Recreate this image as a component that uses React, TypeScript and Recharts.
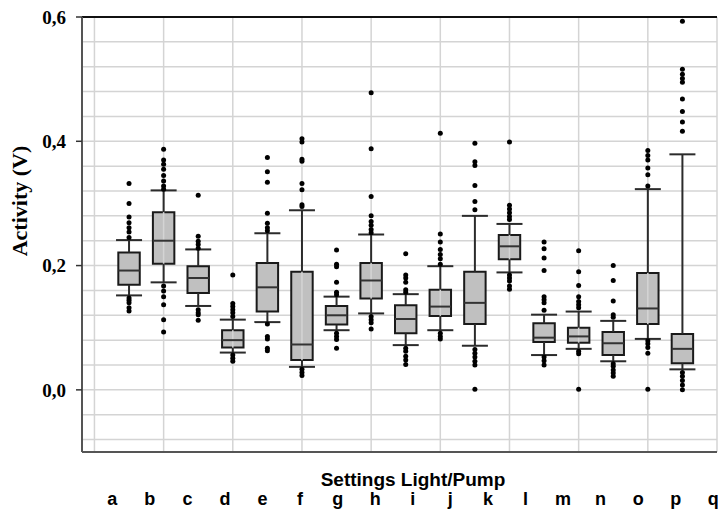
import { ComposedChart, XAxis, YAxis, CartesianGrid, ReferenceArea, ReferenceLine, Scatter, Customized } from "recharts";

const categories = ["a", "b", "c", "d", "e", "f", "g", "h", "i", "j", "k", "l", "m", "n", "o", "p", "q"];

const whiskerLow = [0.152, 0.173, 0.135, 0.06, 0.109, 0.037, 0.096, 0.123, 0.072, 0.096, 0.071, 0.189, 0.056, 0.066, 0.046, 0.082, 0.033];
const q1 = [0.169, 0.203, 0.156, 0.068, 0.126, 0.048, 0.105, 0.147, 0.091, 0.119, 0.106, 0.21, 0.077, 0.076, 0.056, 0.106, 0.043];
const median = [0.192, 0.24, 0.18, 0.08, 0.165, 0.073, 0.12, 0.176, 0.114, 0.134, 0.14, 0.231, 0.084, 0.086, 0.075, 0.131, 0.066];
const q3 = [0.221, 0.286, 0.199, 0.096, 0.204, 0.19, 0.135, 0.204, 0.136, 0.161, 0.19, 0.249, 0.107, 0.1, 0.093, 0.188, 0.09];
const whiskerHigh = [0.241, 0.321, 0.226, 0.113, 0.252, 0.289, 0.15, 0.25, 0.154, 0.199, 0.28, 0.267, 0.121, 0.126, 0.111, 0.323, 0.379];

const outliers = [
  [0.332, 0.3, 0.278, 0.269, 0.261, 0.254, 0.245, 0.148, 0.144, 0.14, 0.132, 0.127],
  [0.387, 0.37, 0.363, 0.355, 0.345, 0.336, 0.328, 0.323, 0.167, 0.159, 0.15, 0.137, 0.113, 0.093],
  [0.313, 0.247, 0.239, 0.234, 0.228, 0.129, 0.124, 0.121, 0.112],
  [0.185, 0.139, 0.134, 0.129, 0.124, 0.118, 0.056, 0.051, 0.046],
  [0.374, 0.351, 0.334, 0.284, 0.268, 0.261, 0.256, 0.106, 0.086, 0.082, 0.067, 0.063],
  [0.404, 0.399, 0.371, 0.368, 0.332, 0.322, 0.298, 0.295, 0.033, 0.028, 0.023],
  [0.225, 0.202, 0.198, 0.173, 0.157, 0.153, 0.091, 0.086, 0.081, 0.067],
  [0.478, 0.388, 0.311, 0.28, 0.271, 0.265, 0.258, 0.253, 0.118, 0.113, 0.108, 0.098],
  [0.219, 0.185, 0.18, 0.173, 0.161, 0.157, 0.067, 0.062, 0.054, 0.048, 0.041],
  [0.413, 0.251, 0.238, 0.226, 0.218, 0.211, 0.202, 0.091, 0.086, 0.082],
  [0.397, 0.367, 0.361, 0.329, 0.303, 0.29, 0.065, 0.059, 0.053, 0.046, 0.04, 0.001],
  [0.399, 0.297, 0.291, 0.285, 0.279, 0.274, 0.185, 0.18, 0.175, 0.167, 0.162],
  [0.238, 0.227, 0.212, 0.192, 0.15, 0.145, 0.14, 0.128, 0.053, 0.047, 0.04],
  [0.224, 0.19, 0.168, 0.15, 0.142, 0.137, 0.132, 0.062, 0.058, 0.001],
  [0.2, 0.176, 0.143, 0.121, 0.117, 0.042, 0.038, 0.032, 0.027, 0.022],
  [0.385, 0.377, 0.37, 0.357, 0.346, 0.328, 0.079, 0.074, 0.068, 0.059, 0.001],
  [0.593, 0.516, 0.508, 0.501, 0.495, 0.468, 0.448, 0.431, 0.416, 0.028, 0.022, 0.015, 0.008, 0],
];

const yTicks = [0, 0.2, 0.4, 0.6];
const gridY = [-0.08, -0.04, 0, 0.04, 0.08, 0.12, 0.16, 0.2, 0.24, 0.28, 0.32, 0.36, 0.4, 0.44, 0.48, 0.52, 0.56, 0.6];
const gridX = [0, 2, 4, 6, 8, 10, 12, 14, 16, 18];
const labelTicks = categories.map((_, i) => i);

const outlierPoints = outliers.flatMap((vals, i) => vals.map((y) => ({ x: i + 1, y })));
// anchors for the letter axis, invisible
const labelAnchors = labelTicks.map((x) => ({ x, y: -0.1 }));

const BOX = 0.31;
const CAP = 0.376;
const DARK = "#2b2b2b";
const GRID = "#d4d4d4";

function LetterTick({ x, y, payload }: { x?: number; y?: number; payload?: { value: number } }) {
  return (
    <text x={x} y={(y ?? 0) + 52} textAnchor="middle" fontFamily="Liberation Sans, Arial, sans-serif" fontWeight="bold" fontSize={18} fill="#000">
      {categories[payload?.value ?? 0]}
    </text>
  );
}

function Titles() {
  return (
    <g>
      <text x={413} y={486} textAnchor="middle" fontFamily="Liberation Sans, Arial, sans-serif" fontWeight="bold" fontSize={19} fill="#000">
        Settings Light/Pump
      </text>
      <text x={27} y={201} transform="rotate(-90 27 201)" textAnchor="middle" fontFamily="Liberation Serif, Times New Roman, serif" fontWeight="bold" fontSize={22} fill="#000">
        Activity (V)
      </text>
    </g>
  );
}

export default function App() {
  return (
    <div style={{ position: "absolute", left: 0, top: 0, background: "#fff" }}>
      <ComposedChart width={718} height={512} margin={{ top: 17, right: 1, left: 0, bottom: 0 }}>
        <CartesianGrid stroke={GRID} strokeWidth={1.5} vertical={false} horizontalValues={gridY} />
        <XAxis type="number" dataKey="x" domain={[-0.36, 18]} allowDataOverflow ticks={gridX} tick={false} tickLine={false}
          height={1} axisLine={{ stroke: "#555", strokeWidth: 2 }} />
        <XAxis xAxisId="lab" type="number" dataKey="x" domain={[-0.807, 16.099]} allowDataOverflow ticks={labelTicks} interval={0}
          height={59} axisLine={false} tickLine={false} tickSize={0} tickMargin={0} tick={<LetterTick />} />
        <YAxis type="number" dataKey="y" domain={[-0.1, 0.6]} allowDataOverflow ticks={yTicks} width={82} interval={0}
          tickFormatter={(v) => Number(v).toFixed(1).replace(".", ",")} tickSize={6} tickMargin={10}
          axisLine={{ stroke: "#555", strokeWidth: 2 }} tickLine={{ stroke: "#333", strokeWidth: 1.5 }}
          tick={{ fill: "#000", fontSize: 19, fontWeight: "bold", fontFamily: "Liberation Serif, Times New Roman, serif" }} />
        {gridX.map((v) => (
          <ReferenceLine key={"gx" + v} x={v} stroke={GRID} strokeWidth={1.5} />
        ))}
        <ReferenceLine y={0.6} stroke="#111" strokeWidth={2} />
        {categories.map((c, i) => (
          <ReferenceLine key={"wu" + c} segment={[{ x: i + 1, y: q3[i] }, { x: i + 1, y: whiskerHigh[i] }]} stroke={DARK} strokeWidth={2} />
        ))}
        {categories.map((c, i) => (
          <ReferenceLine key={"wl" + c} segment={[{ x: i + 1, y: whiskerLow[i] }, { x: i + 1, y: q1[i] }]} stroke={DARK} strokeWidth={2} />
        ))}
        {categories.map((c, i) => (
          <ReferenceArea key={"bx" + c} x1={i + 1 - BOX} x2={i + 1 + BOX} y1={q1[i]} y2={q3[i]} fill="#c0c0c0" fillOpacity={1} stroke="#1a1a1a" strokeWidth={2} />
        ))}
        {categories.map((c, i) => (
          <ReferenceLine key={"md" + c} segment={[{ x: i + 1 - BOX, y: median[i] }, { x: i + 1 + BOX, y: median[i] }]} stroke="#333" strokeWidth={2} />
        ))}
        {categories.map((c, i) => (
          <ReferenceLine key={"cu" + c} segment={[{ x: i + 1 - CAP, y: whiskerHigh[i] }, { x: i + 1 + CAP, y: whiskerHigh[i] }]} stroke={DARK} strokeWidth={2} />
        ))}
        {categories.map((c, i) => (
          <ReferenceLine key={"cl" + c} segment={[{ x: i + 1 - CAP, y: whiskerLow[i] }, { x: i + 1 + CAP, y: whiskerLow[i] }]} stroke={DARK} strokeWidth={2} />
        ))}
        <Scatter xAxisId="lab" data={labelAnchors} isAnimationActive={false} shape={() => <g />} />
        <Scatter data={outlierPoints} isAnimationActive={false} fill="#000"
          shape={(p: { cx?: number; cy?: number }) => <circle cx={p.cx} cy={p.cy} r={2.5} fill="#000" />} />
        <Customized component={<Titles />} />
      </ComposedChart>
    </div>
  );
}
